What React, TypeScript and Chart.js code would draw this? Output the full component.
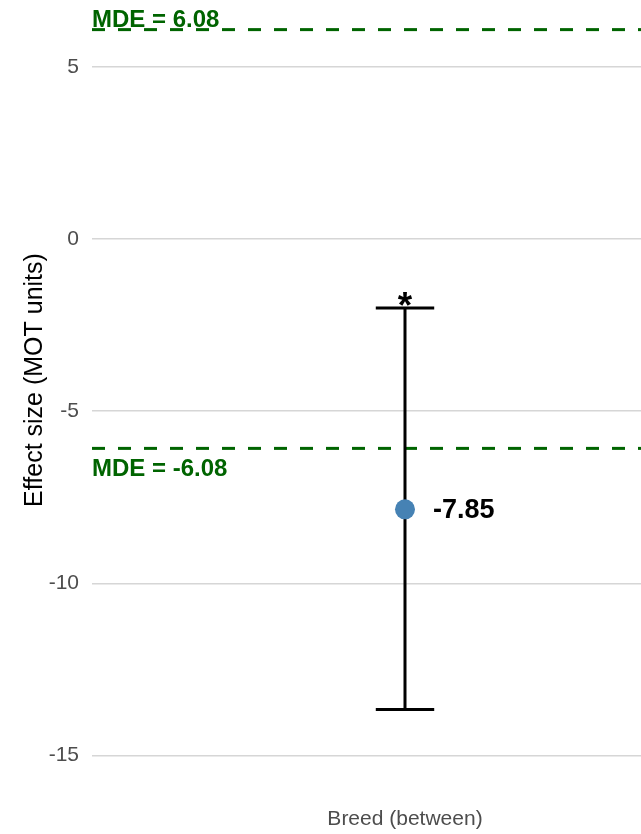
import React, { useEffect, useRef } from "react";
import { Chart, registerables } from "chart.js";

Chart.register(...registerables);

// Data
const categories = ["Breed (between)"];
const estimates = [-7.85];
const lowerBounds = [-13.66];
const upperBounds = [-2.0];
const significance = ["*"];
const mdeValue = 6.08;
const yTickValues = [-15, -10, -5, 0, 5];
const yTitle = "Effect size (MOT units)";

// Axis ranges (single discrete position at x = 1)
const xMin = 0.4;
const xMax = 1.4524;
const yMin = -16.29;
const yMax = 6.94;
const capHalfWidth = 0.056;

const FONT = "'Liberation Sans', Arial, sans-serif";
const MDE_COLOR = "#006400";

const annotationPlugin = {
  id: "effectAnnotations",
  afterDatasetsDraw(chart: any) {
    const { ctx, scales, chartArea } = chart;
    const xs = scales.x;
    const ys = scales.y;
    ctx.save();

    // y-axis title
    ctx.save();
    ctx.translate(42, 380);
    ctx.rotate(-Math.PI / 2);
    ctx.fillStyle = "#000000";
    ctx.font = `25px ${FONT}`;
    ctx.textAlign = "center";
    ctx.textBaseline = "alphabetic";
    ctx.fillText(yTitle, 0, 0);
    ctx.restore();

    // MDE labels
    ctx.fillStyle = MDE_COLOR;
    ctx.font = `bold 24px ${FONT}`;
    ctx.textAlign = "left";
    ctx.textBaseline = "alphabetic";
    const yTop = ys.getPixelForValue(mdeValue);
    const yBot = ys.getPixelForValue(-mdeValue);
    ctx.fillText(`MDE = ${mdeValue.toFixed(2)}`, chartArea.left, yTop - 3);
    ctx.fillText(`MDE = ${(-mdeValue).toFixed(2)}`, chartArea.left, yBot + 28);

    categories.forEach((_, i) => {
      const px = xs.getPixelForValue(i + 1);
      // estimate label
      ctx.fillStyle = "#000000";
      ctx.font = `bold 27px ${FONT}`;
      ctx.textAlign = "left";
      ctx.textBaseline = "middle";
      ctx.fillText(estimates[i].toFixed(2), px + 28, ys.getPixelForValue(estimates[i]) + 1);
      // significance marker
      ctx.font = `bold 37px ${FONT}`;
      ctx.textAlign = "center";
      ctx.textBaseline = "alphabetic";
      ctx.fillText(significance[i], px, ys.getPixelForValue(upperBounds[i]) + 10);
    });

    ctx.restore();
  },
};

export default function App() {
  const canvasRef = useRef<HTMLCanvasElement | null>(null);

  useEffect(() => {
    if (!canvasRef.current) return;

    const pointData = estimates.map((v, i) => ({ x: i + 1, y: v }));
    const errorDatasets: any[] = [];
    estimates.forEach((_, i) => {
      const cx = i + 1;
      errorDatasets.push({
        type: "line",
        data: [
          { x: cx, y: upperBounds[i] },
          { x: cx, y: lowerBounds[i] },
        ],
        borderColor: "#000000",
        borderWidth: 3,
        pointRadius: 0,
        fill: false,
      });
      [upperBounds[i], lowerBounds[i]].forEach((b) => {
        errorDatasets.push({
          type: "line",
          data: [
            { x: cx - capHalfWidth, y: b },
            { x: cx + capHalfWidth, y: b },
          ],
          borderColor: "#000000",
          borderWidth: 3,
          pointRadius: 0,
          fill: false,
        });
      });
    });

    const mdeLine = (v: number) => ({
      type: "line",
      data: [
        { x: xMin, y: v },
        { x: xMax, y: v },
      ],
      borderColor: MDE_COLOR,
      borderWidth: 3,
      borderDash: [13, 13],
      pointRadius: 0,
      fill: false,
    });

    const zeroPadding = (scale: any) => {
      scale.paddingTop = 0;
      scale.paddingBottom = 0;
      scale.paddingLeft = 0;
      scale.paddingRight = 0;
    };

    const chart = new Chart(canvasRef.current, {
      type: "scatter",
      data: {
        datasets: [
          {
            type: "scatter",
            data: pointData,
            backgroundColor: "#4682B4",
            borderWidth: 0,
            pointRadius: 10,
          },
          ...errorDatasets,
          mdeLine(mdeValue),
          mdeLine(-mdeValue),
        ] as any,
      },
      options: {
        animation: false,
        responsive: false,
        maintainAspectRatio: false,
        layout: { padding: 0, autoPadding: false },
        plugins: {
          legend: { display: false },
          tooltip: { enabled: false },
        },
        scales: {
          x: {
            type: "linear",
            min: xMin,
            max: xMax,
            grid: { display: false, drawTicks: false },
            border: { display: false },
            afterBuildTicks: (scale: any) => {
              scale.ticks = categories.map((_, i) => ({ value: i + 1 }));
            },
            afterFit: (scale: any) => {
              scale.height = 34;
              zeroPadding(scale);
            },
            ticks: {
              padding: 7,
              autoSkip: false,
              maxRotation: 0,
              color: "#4d4d4d",
              font: { family: FONT, size: 21 },
              callback: (v: any) => categories[Math.round(v) - 1] ?? "",
            },
          },
          y: {
            type: "linear",
            min: yMin,
            max: yMax,
            grid: { color: "#d6d6d6", lineWidth: 1.5, drawTicks: false },
            border: { display: false },
            afterBuildTicks: (scale: any) => {
              scale.ticks = yTickValues.map((v) => ({ value: v }));
            },
            afterFit: (scale: any) => {
              scale.width = 92;
              zeroPadding(scale);
            },
            ticks: {
              padding: 13,
              color: "#4d4d4d",
              font: { family: FONT, size: 21 },
              callback: (v: any) => String(v),
            },
          },
        },
      },
      plugins: [annotationPlugin],
    });

    return () => chart.destroy();
  }, []);

  return (
    <div style={{ position: "absolute", left: 0, top: 0, width: 641, height: 834, background: "#ffffff" }}>
      <canvas ref={canvasRef} width={641} height={834} style={{ display: "block" }} />
    </div>
  );
}
